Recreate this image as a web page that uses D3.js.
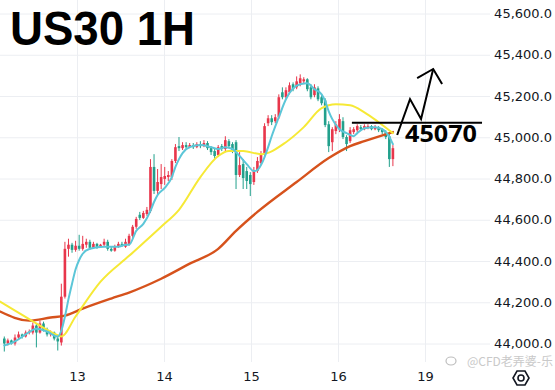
<!DOCTYPE html>
<html><head><meta charset="utf-8">
<script src="https://cdn.jsdelivr.net/npm/d3@7"></script>
<style>html,body{margin:0;padding:0;background:#fff;}svg{display:block;}</style>
</head><body>
<svg id="c" width="555" height="390"></svg>
<script>
// ---- data (US30, 1H) ----
const openVals = [44024,44000,44015,44000,44029,44044,44034,44053,44053,44087,
44053,44097,44068,44044,44053,44024,44005,44227,44459,44479,
44454,44474,44459,44479,44493,44464,44483,44469,44479,44493,
44459,44450,44469,44483,44469,44483,44522,44566,44624,44609,
44628,44643,44856,44740,44773,44798,44807,44807,44885,44957,
44947,44962,44952,44962,44952,44967,44957,44972,44947,44933,
44914,44957,44943,44981,44967,44976,44817,44870,44836,44817,
44783,44836,44875,44914,45068,45092,45078,45097,45218,45194,
45218,45257,45242,45262,45271,45281,45242,45204,45237,45194,
45179,45063,44976,45030,45039,45078,45001,44981,45025,45034,
45049,45039,45049,45054,45039,45049,45039,45025,45005,44894];
const highVals = [44034,44024,44019,44044,44058,44048,44063,44068,44102,44097,
44111,44106,44077,44063,44058,44039,44290,44493,44508,44488,
44498,44527,44522,44508,44503,44493,44488,44483,44508,44503,
44469,44479,44493,44493,44508,44532,44575,44614,44638,44643,
44662,44894,44918,44846,44870,44856,44836,44894,44967,45001,
44976,44976,44972,44972,44976,44981,44986,44981,44957,44943,
44962,44967,45005,44991,44976,44986,44928,44894,44856,44831,
44856,44904,44933,45068,45107,45107,45112,45208,45242,45242,
45266,45266,45295,45305,45291,45286,45257,45257,45247,45208,
45189,45078,45049,45078,45112,45097,45010,45049,45049,45063,
45059,45063,45063,45059,45059,45054,45044,45034,45020,44962];
const lowVals = [43961,43990,43995,43990,44019,44024,44029,44044,44044,43981,
44048,44058,44034,44034,44015,43966,43990,44218,44421,44440,
44445,44450,44450,44464,44454,44459,44459,44464,44469,44450,
44445,44445,44464,44469,44464,44474,44512,44556,44599,44604,
44619,44633,44725,44725,44749,44769,44788,44793,44875,44933,
44938,44943,44947,44943,44947,44947,44952,44938,44914,44894,
44904,44933,44933,44947,44923,44749,44807,44749,44749,44715,
44769,44827,44865,44904,45054,45059,45068,45088,45184,45184,
45208,45223,45233,45247,45257,45223,45184,45194,45175,45155,
45049,44928,44933,45015,45025,44991,44933,44972,45015,45025,
45034,45034,45039,45034,45034,45025,45015,44991,44856,44860];
const closeVals = [44000,44015,44000,44029,44044,44034,44053,44058,44087,44053,
44097,44068,44044,44053,44024,44010,44227,44459,44479,44454,
44474,44459,44483,44493,44464,44483,44469,44479,44493,44459,
44450,44469,44483,44474,44493,44522,44566,44604,44609,44633,
44648,44856,44740,44783,44807,44812,44817,44885,44952,44947,
44962,44952,44962,44952,44967,44957,44972,44947,44928,44909,
44952,44943,44986,44957,44933,44817,44865,44802,44788,44773,
44836,44885,44914,45054,45092,45073,45097,45194,45194,45228,
45252,45233,45271,45286,45281,45233,45194,45242,45184,45165,
45059,44957,45039,45063,45088,45001,44967,45034,45039,45054,
45039,45054,45054,45039,45049,45034,45025,45001,44894,44947];

// moving averages, positions in candle index
const fastIdx = [0,3,6,9,12,15,16,17,18,19,20,21,22,24,28,32,34,35,37,39,41,42,43,45,47,48,49,50,52,55,58,60,62,64,66,68,70,71,72,73,74,75,77,79,81,83,85,87,89,90,91,92,94,96,98,99,101,104,106,108,109];
const fastVal = [43990,44010,44044,44072,44058,44034,44063,44130,44215,44290,44360,44405,44435,44459,44469,44469,44479,44479,44546,44580,44643,44686,44720,44754,44807,44856,44894,44923,44952,44962,44952,44943,44952,44943,44909,44870,44836,44841,44865,44904,44952,45005,45097,45184,45237,45257,45262,45233,45208,45175,45126,45088,45039,45020,45005,45020,45044,45049,45039,45001,44967];
const midIdx = [-1.2,7.2,14,16,20,27,35,44,49,55,60,63,67,72,79,84,89,93,97,101,105,109];
const midVal = [44203,44116,44048,44034,44131,44300,44425,44566,44648,44807,44909,44933,44933,44918,44976,45049,45141,45160,45155,45121,45073,45020];
const slowIdx = [-1.2,7,13,17,22,30,35,44,52,60,65,71,82,91,97,101,109];
const slowVal = [44155,44111,44126,44135,44169,44218,44247,44314,44387,44459,44546,44638,44783,44899,44957,44981,45025];

const dayIdx = [20.4,44.8,69.2,93.6,118];
const dayLabels = ["13","14","15","16","19"];
const yTicks = [44000,44200,44400,44600,44800,45000,45200,45400,45600];

const levelPrice = 45070;
const levelLabel = "45070";
const levelIdx = [97.5,134];
// projected path annotation (index, price)
const arrowIdx = [110.2,113.8,116.9,120.3];
const arrowVal = [45011,45185,45088,45331];
const headIdx = [115.8,120.3,122.8];
const headVal = [45287,45331,45258];

const title = "US30 1H";
const watermark = "@CFD老弄婆-乐";

// ---- drawing ----
const svg = d3.select("#c");
const W = 555, H = 390, plotR = 490, plotB = 362;
svg.append("rect").attr("width",W).attr("height",H).attr("fill","#fff");

const x = d3.scaleLinear().domain([0,109]).range([4.3,392.9]);
const y = d3.scaleLinear().domain([44000,45600]).range([343.5,13.5]);

// grid
const gx = svg.append("g").attr("transform",`translate(0,${plotB})`)
  .call(d3.axisBottom(x).tickValues(dayIdx).tickSize(-plotB).tickFormat(""));
gx.select(".domain").remove();
gx.selectAll("line").attr("stroke","#eceef2").attr("stroke-width",1);
const gy = svg.append("g").attr("transform",`translate(${plotR},0)`)
  .call(d3.axisLeft(y).tickValues(yTicks).tickSize(plotR).tickFormat(""));
gy.select(".domain").remove();
gy.selectAll("line").attr("stroke","#eceef2").attr("stroke-width",1);

const plot = svg.append("g");
svg.append("clipPath").attr("id","clip").append("rect").attr("x",0).attr("y",0).attr("width",plotR).attr("height",plotB);
plot.attr("clip-path","url(#clip)");

const UP = "#e8364b", DN = "#22a08c";
const idx = d3.range(openVals.length);
const cw = 2.6;
const cg = plot.append("g");
cg.selectAll("line.w").data(idx).join("line")
  .attr("x1",i=>x(i)).attr("x2",i=>x(i))
  .attr("y1",i=>y(highVals[i])).attr("y2",i=>y(lowVals[i]))
  .attr("stroke",i=>closeVals[i]>=openVals[i]?UP:DN).attr("stroke-width",1);
cg.selectAll("rect.b").data(idx).join("rect")
  .attr("x",i=>x(i)-cw/2).attr("width",cw)
  .attr("y",i=>y(Math.max(openVals[i],closeVals[i])))
  .attr("height",i=>Math.max(1,Math.abs(y(openVals[i])-y(closeVals[i]))))
  .attr("fill",i=>closeVals[i]>=openVals[i]?UP:DN);

function maLine(ix, vals, color, w){
  const line = d3.line().x(d=>x(d[0])).y(d=>y(d[1])).curve(d3.curveMonotoneX);
  plot.append("path").datum(ix.map((v,k)=>[v,vals[k]]))
    .attr("d",line).attr("fill","none").attr("stroke",color)
    .attr("stroke-width",w).attr("stroke-linejoin","round").attr("stroke-linecap","round");
}
maLine(slowIdx, slowVal, "#d6521c", 2.4);
maLine(midIdx, midVal, "#f6e936", 2);
maLine(fastIdx, fastVal, "#5cc6d8", 2);

// y axis labels
const ya = svg.append("g").attr("transform",`translate(${plotR},0)`)
  .call(d3.axisRight(y).tickValues(yTicks).tickSize(0).tickFormat(d3.format(",.1f")));
ya.select(".domain").remove();
ya.selectAll("text").attr("x",62).attr("text-anchor","end")
  .attr("font-family","DejaVu Sans, sans-serif").attr("font-size",13).attr("fill","#131722");

// x axis labels
const xa = svg.append("g").attr("transform",`translate(0,${plotB})`)
  .call(d3.axisBottom(x).tickValues(dayIdx).tickSize(0).tickFormat((d,i)=>dayLabels[i]));
xa.select(".domain").remove();
xa.selectAll("text").attr("dy","1.25em")
  .attr("font-family","DejaVu Sans, sans-serif").attr("font-size",13).attr("fill","#131722");

// annotations
svg.append("line").attr("x1",x(levelIdx[0])).attr("x2",x(levelIdx[1]))
  .attr("y1",y(levelPrice)).attr("y2",y(levelPrice)).attr("stroke","#000").attr("stroke-width",2);
svg.append("path").datum(arrowIdx.map((v,k)=>[v,arrowVal[k]]))
  .attr("d",d3.line().x(d=>x(d[0])).y(d=>y(d[1])))
  .attr("fill","none").attr("stroke","#000").attr("stroke-width",2).attr("stroke-linejoin","miter");
svg.append("path").datum(headIdx.map((v,k)=>[v,headVal[k]]))
  .attr("d",d3.line().x(d=>x(d[0])).y(d=>y(d[1])))
  .attr("fill","none").attr("stroke","#000").attr("stroke-width",2);
svg.append("text").attr("x",405).attr("y",142).text(levelLabel)
  .attr("font-family","Open Sans, sans-serif").attr("font-weight",700).attr("font-size",24)
  .attr("textLength",72).attr("lengthAdjust","spacingAndGlyphs").attr("fill","#000");

svg.append("text").attr("x",10).attr("y",45).text(title)
  .attr("font-family","Liberation Sans, Arial, sans-serif").attr("font-weight",700).attr("font-size",48)
  .attr("textLength",185).attr("lengthAdjust","spacingAndGlyphs").attr("fill","#000");

// watermark
svg.append("text").attr("x",553).attr("y",366).attr("text-anchor","end").text(watermark)
  .attr("font-family","Noto Sans CJK SC, sans-serif").attr("font-size",12).attr("fill","#c9c9c9");
svg.append("ellipse").attr("cx",451).attr("cy",361).attr("rx",5).attr("ry",4)
  .attr("fill","none").attr("stroke","#bdbdbd").attr("stroke-width",1.2);

// settings hexagon
const hx = 521, hy = 378, hr = 8;
const hex = d3.range(6).map(k=>[hx+hr*Math.cos(Math.PI/3*k), hy+hr*Math.sin(Math.PI/3*k)]);
svg.append("path").attr("d","M"+hex.join("L")+"Z").attr("fill","none").attr("stroke","#131722").attr("stroke-width",1.6);
svg.append("circle").attr("cx",hx).attr("cy",hy).attr("r",3).attr("fill","none").attr("stroke","#131722").attr("stroke-width",1.6);
</script>
</body></html>
